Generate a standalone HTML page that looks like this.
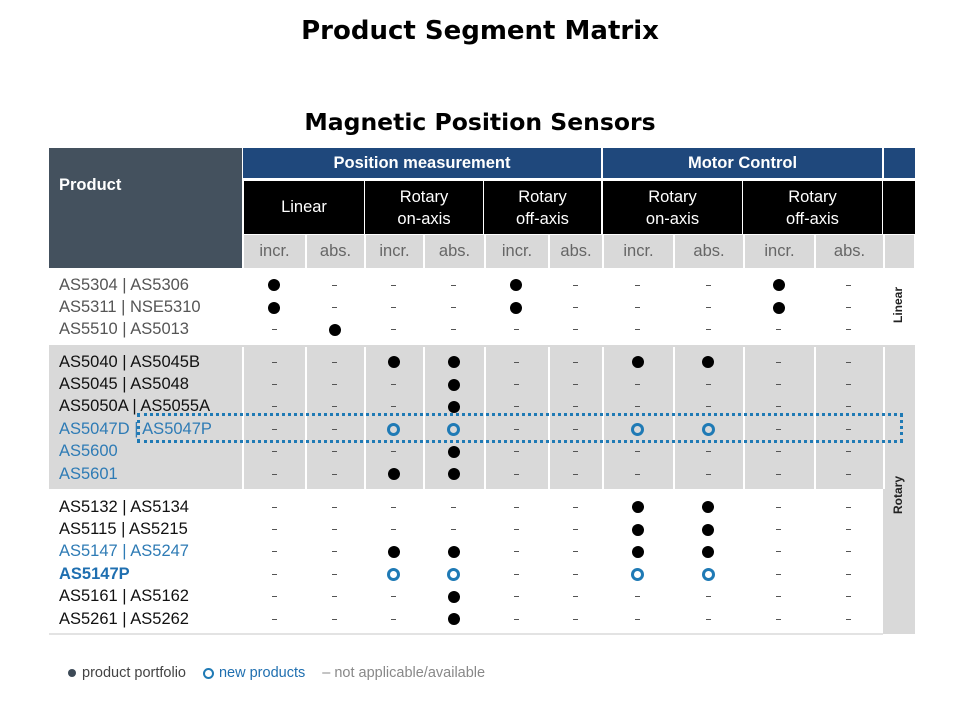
<!DOCTYPE html>
<html><head><meta charset="utf-8"><style>
*{margin:0;padding:0;box-sizing:border-box}
body{width:960px;height:720px;background:#fff;font-family:"Liberation Sans",sans-serif;position:relative;overflow:hidden}
.a{position:absolute}
.t1{left:0;width:960px;top:16px;text-align:center;font-weight:bold;font-size:26px;color:#000;font-family:"DejaVu Sans",sans-serif}
.t2{left:0;width:960px;top:108px;text-align:center;font-weight:bold;font-size:23.5px;color:#000;font-family:"DejaVu Sans",sans-serif}
.row{position:absolute;left:49px;display:flex;height:22.4px;align-items:center}
.p{width:194px;padding-left:10px;font-size:16.5px;white-space:nowrap}
.c{display:flex;justify-content:center;align-items:center;height:100%}
.w1{width:62px}.w2{width:59px}.w3{width:59px}.w4{width:61px}.w5{width:64px}.w6{width:54px}.w7{width:71px}.w8{width:70px}.w9{width:71px}.w10{width:69px}
.d{width:12px;height:12px;border-radius:50%;background:#000;display:block}
.o{width:13px;height:13px;border-radius:50%;border:3px solid #1f7ab5;display:block}
.n{display:block;width:5px;height:1px;background:#555}
.g{color:#555}.k{color:#111}.b{color:#2e7bb5}
.hb{position:absolute;background:#000;color:#fff;font-size:16.5px;text-align:center;line-height:22px;padding-top:5px;height:53px;top:181px}
</style></head><body>
<div class="a t1">Product Segment Matrix</div>
<div class="a t2">Magnetic Position Sensors</div>

<div class="a" style="left:49px;top:148px;width:193px;height:120px;background:#44515e"></div>
<div class="a" style="left:59px;top:176px;color:#fff;font-weight:bold;font-size:16.5px">Product</div>
<div class="a" style="left:243px;top:148px;width:358px;height:30px;background:#1f487c;color:#fff;font-weight:bold;font-size:16.5px;text-align:center;line-height:30px">Position measurement</div>
<div class="a" style="left:603px;top:148px;width:279px;height:30px;background:#1f487c;color:#fff;font-weight:bold;font-size:16.5px;text-align:center;line-height:30px">Motor Control</div>
<div class="a" style="left:884px;top:148px;width:31px;height:30px;background:#1f487c"></div>

<div class="hb" style="left:244px;width:120px;line-height:53px;padding-top:0">Linear</div>
<div class="hb" style="left:365px;width:118px">Rotary<br>on-axis</div>
<div class="hb" style="left:484px;width:117px">Rotary<br>off-axis</div>
<div class="hb" style="left:603px;width:139px">Rotary<br>on-axis</div>
<div class="hb" style="left:743px;width:139px">Rotary<br>off-axis</div>
<div class="a" style="left:883px;top:181px;width:32px;height:53px;background:#000"></div>

<div class="row" style="top:235px;height:33px;color:#666;font-size:16.5px">
<div class="p" style="visibility:hidden">x</div>
<div class="c w1" style="background:#d9d9d9;border-left:1px solid #fff">incr.</div><div class="c w2" style="background:#d9d9d9;border-left:2px solid #fff">abs.</div><div class="c w3" style="background:#d9d9d9;border-left:2px solid #fff">incr.</div><div class="c w4" style="background:#d9d9d9;border-left:2px solid #fff">abs.</div><div class="c w5" style="background:#d9d9d9;border-left:2px solid #fff">incr.</div><div class="c w6" style="background:#d9d9d9;border-left:2px solid #fff">abs.</div><div class="c w7" style="background:#d9d9d9;border-left:2px solid #fff">incr.</div><div class="c w8" style="background:#d9d9d9;border-left:2px solid #fff">abs.</div><div class="c w9" style="background:#d9d9d9;border-left:2px solid #fff">incr.</div><div class="c w10" style="background:#d9d9d9;border-left:2px solid #fff">abs.</div><div style="width:31px;height:100%;background:#d9d9d9;border-left:2px solid #fff"></div>
</div>

<div class="a" style="left:49px;top:345px;width:866px;height:2px;background:#d9d9d9"></div>
<div class="a" style="left:49px;top:347px;width:834px;height:142px;background:#d9d9d9"></div>
<div class="a" style="left:883px;top:347px;width:32px;height:287px;background:#d9d9d9"></div>
<div class="a" style="left:242px;top:347px;width:2px;height:142px;background:#fff"></div>
<div class="a" style="left:305px;top:347px;width:2px;height:142px;background:#fff"></div>
<div class="a" style="left:364px;top:347px;width:2px;height:142px;background:#fff"></div>
<div class="a" style="left:423px;top:347px;width:2px;height:142px;background:#fff"></div>
<div class="a" style="left:484px;top:347px;width:2px;height:142px;background:#fff"></div>
<div class="a" style="left:548px;top:347px;width:2px;height:142px;background:#fff"></div>
<div class="a" style="left:602px;top:347px;width:2px;height:142px;background:#fff"></div>
<div class="a" style="left:673px;top:347px;width:2px;height:142px;background:#fff"></div>
<div class="a" style="left:743px;top:347px;width:2px;height:142px;background:#fff"></div>
<div class="a" style="left:814px;top:347px;width:2px;height:142px;background:#fff"></div>
<div class="a" style="left:883px;top:347px;width:2px;height:142px;background:#fff"></div>
<div class="a" style="left:49px;top:633px;width:834px;height:2px;background:#e3e3e3"></div>

<div class="a" style="left:890px;top:298px;width:16px;height:20px;"><div style="transform:rotate(-90deg);transform-origin:center;font-weight:bold;font-size:12px;color:#222;width:50px;margin-left:-17px;text-align:center">Linear</div></div>
<div class="a" style="left:890px;top:488px;width:16px;height:20px;"><div style="transform:rotate(-90deg);transform-origin:center;font-weight:bold;font-size:12px;color:#222;width:50px;margin-left:-17px;text-align:center">Rotary</div></div>

<div class="row" style="top:274px"><div class="p g">AS5304 | AS5306</div><div class="c w1"><i class="d"></i></div><div class="c w2"><i class="n"></i></div><div class="c w3"><i class="n"></i></div><div class="c w4"><i class="n"></i></div><div class="c w5"><i class="d"></i></div><div class="c w6"><i class="n"></i></div><div class="c w7"><i class="n"></i></div><div class="c w8"><i class="n"></i></div><div class="c w9"><i class="d"></i></div><div class="c w10"><i class="n"></i></div></div>
<div class="row" style="top:296.4px"><div class="p g">AS5311 | NSE5310</div><div class="c w1"><i class="d"></i></div><div class="c w2"><i class="n"></i></div><div class="c w3"><i class="n"></i></div><div class="c w4"><i class="n"></i></div><div class="c w5"><i class="d"></i></div><div class="c w6"><i class="n"></i></div><div class="c w7"><i class="n"></i></div><div class="c w8"><i class="n"></i></div><div class="c w9"><i class="d"></i></div><div class="c w10"><i class="n"></i></div></div>
<div class="row" style="top:318.8px"><div class="p g">AS5510 | AS5013</div><div class="c w1"><i class="n"></i></div><div class="c w2"><i class="d"></i></div><div class="c w3"><i class="n"></i></div><div class="c w4"><i class="n"></i></div><div class="c w5"><i class="n"></i></div><div class="c w6"><i class="n"></i></div><div class="c w7"><i class="n"></i></div><div class="c w8"><i class="n"></i></div><div class="c w9"><i class="n"></i></div><div class="c w10"><i class="n"></i></div></div>

<div class="row" style="top:351px"><div class="p k">AS5040 | AS5045B</div><div class="c w1"><i class="n"></i></div><div class="c w2"><i class="n"></i></div><div class="c w3"><i class="d"></i></div><div class="c w4"><i class="d"></i></div><div class="c w5"><i class="n"></i></div><div class="c w6"><i class="n"></i></div><div class="c w7"><i class="d"></i></div><div class="c w8"><i class="d"></i></div><div class="c w9"><i class="n"></i></div><div class="c w10"><i class="n"></i></div></div>
<div class="row" style="top:373.4px"><div class="p k">AS5045 | AS5048</div><div class="c w1"><i class="n"></i></div><div class="c w2"><i class="n"></i></div><div class="c w3"><i class="n"></i></div><div class="c w4"><i class="d"></i></div><div class="c w5"><i class="n"></i></div><div class="c w6"><i class="n"></i></div><div class="c w7"><i class="n"></i></div><div class="c w8"><i class="n"></i></div><div class="c w9"><i class="n"></i></div><div class="c w10"><i class="n"></i></div></div>
<div class="row" style="top:395.8px"><div class="p k">AS5050A | AS5055A</div><div class="c w1"><i class="n"></i></div><div class="c w2"><i class="n"></i></div><div class="c w3"><i class="n"></i></div><div class="c w4"><i class="d"></i></div><div class="c w5"><i class="n"></i></div><div class="c w6"><i class="n"></i></div><div class="c w7"><i class="n"></i></div><div class="c w8"><i class="n"></i></div><div class="c w9"><i class="n"></i></div><div class="c w10"><i class="n"></i></div></div>
<div class="row" style="top:418.2px"><div class="p b">AS5047D | AS5047P</div><div class="c w1"><i class="n"></i></div><div class="c w2"><i class="n"></i></div><div class="c w3"><i class="o"></i></div><div class="c w4"><i class="o"></i></div><div class="c w5"><i class="n"></i></div><div class="c w6"><i class="n"></i></div><div class="c w7"><i class="o"></i></div><div class="c w8"><i class="o"></i></div><div class="c w9"><i class="n"></i></div><div class="c w10"><i class="n"></i></div></div>
<div class="row" style="top:440.6px"><div class="p b">AS5600</div><div class="c w1"><i class="n"></i></div><div class="c w2"><i class="n"></i></div><div class="c w3"><i class="n"></i></div><div class="c w4"><i class="d"></i></div><div class="c w5"><i class="n"></i></div><div class="c w6"><i class="n"></i></div><div class="c w7"><i class="n"></i></div><div class="c w8"><i class="n"></i></div><div class="c w9"><i class="n"></i></div><div class="c w10"><i class="n"></i></div></div>
<div class="row" style="top:463px"><div class="p b">AS5601</div><div class="c w1"><i class="n"></i></div><div class="c w2"><i class="n"></i></div><div class="c w3"><i class="d"></i></div><div class="c w4"><i class="d"></i></div><div class="c w5"><i class="n"></i></div><div class="c w6"><i class="n"></i></div><div class="c w7"><i class="n"></i></div><div class="c w8"><i class="n"></i></div><div class="c w9"><i class="n"></i></div><div class="c w10"><i class="n"></i></div></div>

<div class="row" style="top:496px"><div class="p k">AS5132 | AS5134</div><div class="c w1"><i class="n"></i></div><div class="c w2"><i class="n"></i></div><div class="c w3"><i class="n"></i></div><div class="c w4"><i class="n"></i></div><div class="c w5"><i class="n"></i></div><div class="c w6"><i class="n"></i></div><div class="c w7"><i class="d"></i></div><div class="c w8"><i class="d"></i></div><div class="c w9"><i class="n"></i></div><div class="c w10"><i class="n"></i></div></div>
<div class="row" style="top:518.4px"><div class="p k">AS5115 | AS5215</div><div class="c w1"><i class="n"></i></div><div class="c w2"><i class="n"></i></div><div class="c w3"><i class="n"></i></div><div class="c w4"><i class="n"></i></div><div class="c w5"><i class="n"></i></div><div class="c w6"><i class="n"></i></div><div class="c w7"><i class="d"></i></div><div class="c w8"><i class="d"></i></div><div class="c w9"><i class="n"></i></div><div class="c w10"><i class="n"></i></div></div>
<div class="row" style="top:540.8px"><div class="p b">AS5147 | AS5247</div><div class="c w1"><i class="n"></i></div><div class="c w2"><i class="n"></i></div><div class="c w3"><i class="d"></i></div><div class="c w4"><i class="d"></i></div><div class="c w5"><i class="n"></i></div><div class="c w6"><i class="n"></i></div><div class="c w7"><i class="d"></i></div><div class="c w8"><i class="d"></i></div><div class="c w9"><i class="n"></i></div><div class="c w10"><i class="n"></i></div></div>
<div class="row" style="top:563.2px"><div class="p b" style="font-weight:bold;color:#1f6fb0">AS5147P</div><div class="c w1"><i class="n"></i></div><div class="c w2"><i class="n"></i></div><div class="c w3"><i class="o"></i></div><div class="c w4"><i class="o"></i></div><div class="c w5"><i class="n"></i></div><div class="c w6"><i class="n"></i></div><div class="c w7"><i class="o"></i></div><div class="c w8"><i class="o"></i></div><div class="c w9"><i class="n"></i></div><div class="c w10"><i class="n"></i></div></div>
<div class="row" style="top:585.6px"><div class="p k">AS5161 | AS5162</div><div class="c w1"><i class="n"></i></div><div class="c w2"><i class="n"></i></div><div class="c w3"><i class="n"></i></div><div class="c w4"><i class="d"></i></div><div class="c w5"><i class="n"></i></div><div class="c w6"><i class="n"></i></div><div class="c w7"><i class="n"></i></div><div class="c w8"><i class="n"></i></div><div class="c w9"><i class="n"></i></div><div class="c w10"><i class="n"></i></div></div>
<div class="row" style="top:608px"><div class="p k">AS5261 | AS5262</div><div class="c w1"><i class="n"></i></div><div class="c w2"><i class="n"></i></div><div class="c w3"><i class="n"></i></div><div class="c w4"><i class="d"></i></div><div class="c w5"><i class="n"></i></div><div class="c w6"><i class="n"></i></div><div class="c w7"><i class="n"></i></div><div class="c w8"><i class="n"></i></div><div class="c w9"><i class="n"></i></div><div class="c w10"><i class="n"></i></div></div>

<div class="a" style="left:137px;top:413px;width:766px;height:30px;border:3px dotted #1f7ab5"></div>

<div class="a" style="left:68px;top:665px;font-size:14.5px;color:#444;white-space:nowrap;display:flex;align-items:center">
<i style="display:inline-block;width:8px;height:8px;border-radius:50%;background:#3d4a57;margin-right:6px"></i><span>product portfolio</span>
<i style="display:inline-block;width:11px;height:11px;border-radius:50%;border:2.5px solid #1f7ab5;margin-left:17px;margin-right:5px"></i><span style="color:#1f6fb0">new products</span>
<span style="color:#888;margin-left:17px">– not applicable/available</span>
</div>
</body></html>
